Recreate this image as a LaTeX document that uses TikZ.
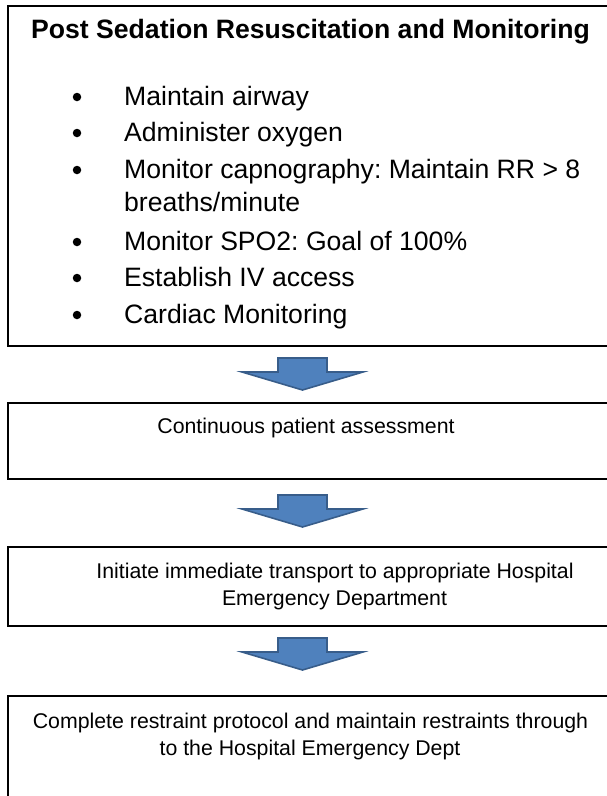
\documentclass[tikz,border=0pt]{standalone}
\usepackage{fontspec}
\setmainfont{Liberation Sans}
\frenchspacing
\definecolor{arrowblue}{RGB}{79,129,189}
\definecolor{arrowedge}{RGB}{56,93,138}

\begin{document}
\begin{tikzpicture}[x=1pt,y=-1pt]
            \tikzset{
            sed box/.style={draw,line width=1.6pt,anchor=north west,inner sep=0},
            sed title/.style={anchor=base west,inner sep=0,font=\fontsize{26.6}{30}\selectfont\bfseries},
            sed item/.style={anchor=base west,inner sep=0,font=\fontsize{26.6}{30}\selectfont},
            sed dot/.style={circle,fill,inner sep=0,minimum size=8.5pt},
            sed text/.style={anchor=base,inner sep=0,font=\fontsize{21.3}{27}\selectfont},
            sed arrow/.style={fill=arrowblue,draw=arrowedge,line width=1.6pt,line join=miter}
            }
            \useasboundingbox (0,0) rectangle (607,796);
            % boxes, running off the right edge
            \node[sed box,minimum width=720pt,minimum height=340pt] (B1) at (7,5) {};
            \node[sed box,minimum width=720pt,minimum height=76pt] (B2) at (7,402) {};
            \node[sed box,minimum width=720pt,minimum height=79pt] (B3) at (7,546) {};
            \node[sed box,minimum width=720pt,minimum height=160pt] (B4) at (7,695) {};

            \node[sed title] (T1) at (31,38) {Post Sedation Resuscitation and Monitoring};
            \foreach \yb/\nm/\txt in {105/I1/Maintain airway, 141/I2/Administer oxygen,
                178/I3/{Monitor capnography: Maintain RR > 8}, 250/I4/{Monitor SPO2: Goal of 100\%},
                286/I5/Establish IV access, 323/I6/Cardiac Monitoring}{
            \node[sed dot] (D\nm) at (77,\yb-8) {};
            \node[sed item] (\nm) at (124,\yb) {\txt};
            }
            \node[sed item] (I3b) at (124,211) {breaths/minute};

            \node[sed text] (T2) at (306,433) {Continuous patient assessment};
            \node[sed text] (T3a) at (335,578) {Initiate immediate transport to appropriate Hospital};
            \node[sed text] (T3b) at (334.5,605) {Emergency Department};
            \node[sed text] (T4a) at (310.5,728) {Complete restraint protocol and maintain restraints through};
            \node[sed text] (T4b) at (310,755) {to the Hospital Emergency Dept};

            % block arrows between the boxes
            \foreach \ya in {358,495,638}{
            \draw[sed arrow] (278,\ya) -- (327,\ya) -- (327,\ya+14) -- (363,\ya+14)
                -- (302.5,\ya+32) -- (242,\ya+14) -- (278,\ya+14) -- cycle;
            }
\end{tikzpicture}
\end{document}
